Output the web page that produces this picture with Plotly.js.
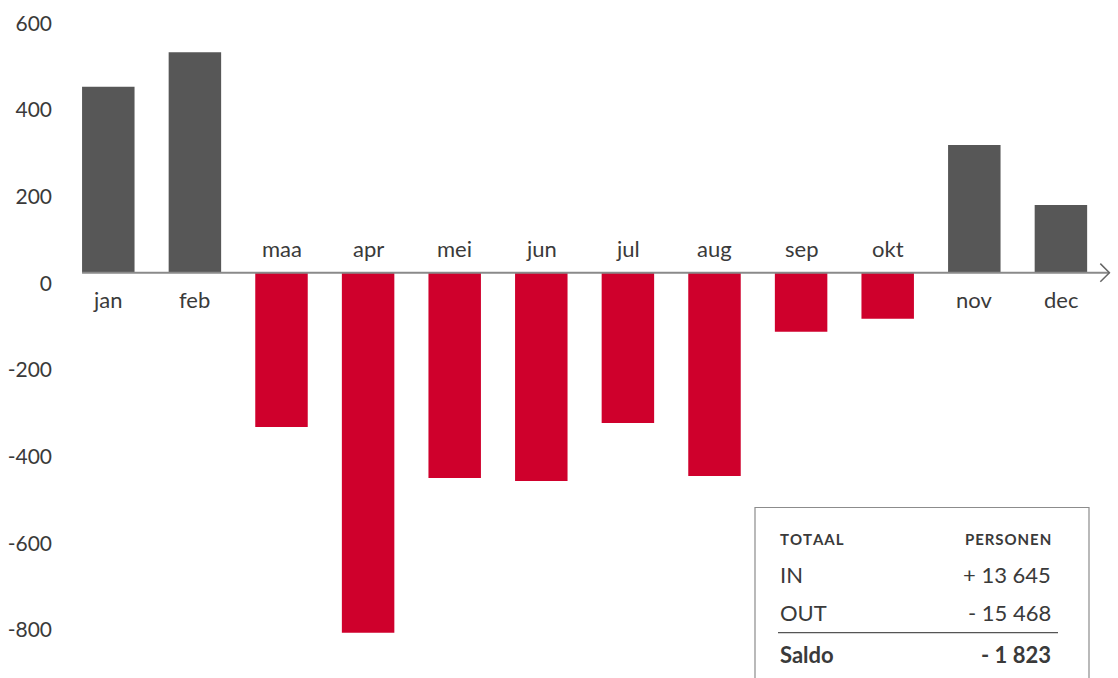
<!DOCTYPE html>
<html>
<head>
<meta charset="utf-8">
<script src="https://cdn.plot.ly/plotly-3.0.1.min.js"></script>
<style>
html,body{margin:0;padding:0;background:#fff;}
#chart{width:1118px;height:678px;}
</style>
</head>
<body>
<div id="chart"></div>
<script>
// ---- data ----
var months = ['jan','feb','maa','apr','mei','jun','jul','aug','sep','okt','nov','dec'];
var saldo  = [429, 509, -356, -831, -474, -481, -347, -469, -136, -106, 295, 156];
var yTicks = [-800, -600, -400, -200, 0, 200, 400, 600];
var tableHeader = ['TOTAAL', 'PERSONEN'];
var tableLabels = ['IN', 'OUT', 'Saldo'];
var tableValues = ['+ 13 645', '- 15 468', '- 1 823'];

// ---- style ----
var GRAY = '#575757', RED = '#cf002c', TXT = '#3a3a3a';
var FONT = 'Lato, "Open Sans", sans-serif';
var W = 1118, H = 678;
var M = {l: 65, r: 6, t: 10, b: 10};
var plotW = W - M.l - M.r, plotH = H - M.t - M.b;
function px(x){ return (x - M.l) / plotW; }
function py(y){ return (H - M.b - y) / plotH; }
function spaced(s){ return s.split('').join('\u200A'); }

var colors = saldo.map(function(v){ return v >= 0 ? GRAY : RED; });

var trace = {
  type: 'bar',
  x: months,
  y: saldo,
  marker: {color: colors, line: {width: 0}},
  hoverinfo: 'x+y'
};

var annotations = [];
months.forEach(function(m, i){
  var pos = saldo[i] >= 0;
  annotations.push({
    x: m, y: 0, xref: 'x', yref: 'y',
    text: m, showarrow: false,
    xanchor: 'center', yanchor: pos ? 'top' : 'bottom',
    yshift: pos ? -11 : 9,
    font: {family: FONT, size: 22, color: TXT}
  });
});

// table
var tl = 778, tr = 1053;
annotations.push({xref:'paper', yref:'paper', x: px(tl), y: py(539), xanchor:'left', yanchor:'middle',
  text: '<b>' + spaced(tableHeader[0]) + '</b>', showarrow:false, font:{family:FONT, size:15, color:TXT}});
annotations.push({xref:'paper', yref:'paper', x: px(tr), y: py(539), xanchor:'right', yanchor:'middle',
  text: '<b>' + spaced(tableHeader[1]) + '</b>', showarrow:false, font:{family:FONT, size:15, color:TXT}});
var rowY = [574, 612, 654];
tableLabels.forEach(function(lab, i){
  var bold = (i === tableLabels.length - 1);
  annotations.push({xref:'paper', yref:'paper', x: px(tl), y: py(rowY[i]), xanchor:'left', yanchor:'middle',
    text: bold ? '<b>' + lab + '</b>' : lab, showarrow:false, font:{family:FONT, size:22, color:TXT}});
  annotations.push({xref:'paper', yref:'paper', x: px(tr), y: py(rowY[i]), xanchor:'right', yanchor:'middle',
    text: bold ? '<b>' + tableValues[i] + '</b>' : tableValues[i], showarrow:false, font:{family:FONT, size:22, color:TXT}});
});

var shapes = [
  // axis line with arrow
  {type:'line', xref:'x', yref:'y', x0:-0.303, x1:11.56, y0:0, y1:0, line:{color:'#8a8a8a', width:2}, layer:'above'},
  {type:'path', xref:'x', yref:'y', path:'M 11.455,21 L 11.56,0 L 11.455,-21', line:{color:'#666', width:1.5}},
  // table box
  {type:'rect', xref:'paper', yref:'paper', x0:px(755), x1:px(1089), y0:py(507.5), y1:py(700), line:{color:'#8c8c8c', width:1.2}, fillcolor:'rgba(0,0,0,0)'},
  {type:'line', xref:'paper', yref:'paper', x0:px(778), x1:px(1058), y0:py(632.7), y1:py(632.7), line:{color:'#555', width:1.2}}
];

var layout = {
  width: W, height: H,
  margin: M,
  paper_bgcolor: '#fff', plot_bgcolor: '#fff',
  showlegend: false,
  bargap: 0.394,
  font: {family: FONT, color: TXT},
  xaxis: {
    type: 'category', range: [-0.5, 11.59],
    showticklabels: false, showgrid: false, zeroline: false, showline: false, ticks: ''
  },
  yaxis: {
    range: [-912.3, 606.3],
    tickvals: yTicks, ticktext: yTicks.map(String),
    ticklabelposition: 'outside bottom',
    ticklabelstandoff: 12,
    ticklabelshift: -4,
    tickfont: {family: FONT, size: 21, color: TXT},
    showgrid: false, zeroline: false, showline: false, ticks: ''
  },
  annotations: annotations,
  shapes: shapes
};

Plotly.newPlot('chart', [trace], layout, {displayModeBar: false, staticPlot: true});
</script>
</body>
</html>
